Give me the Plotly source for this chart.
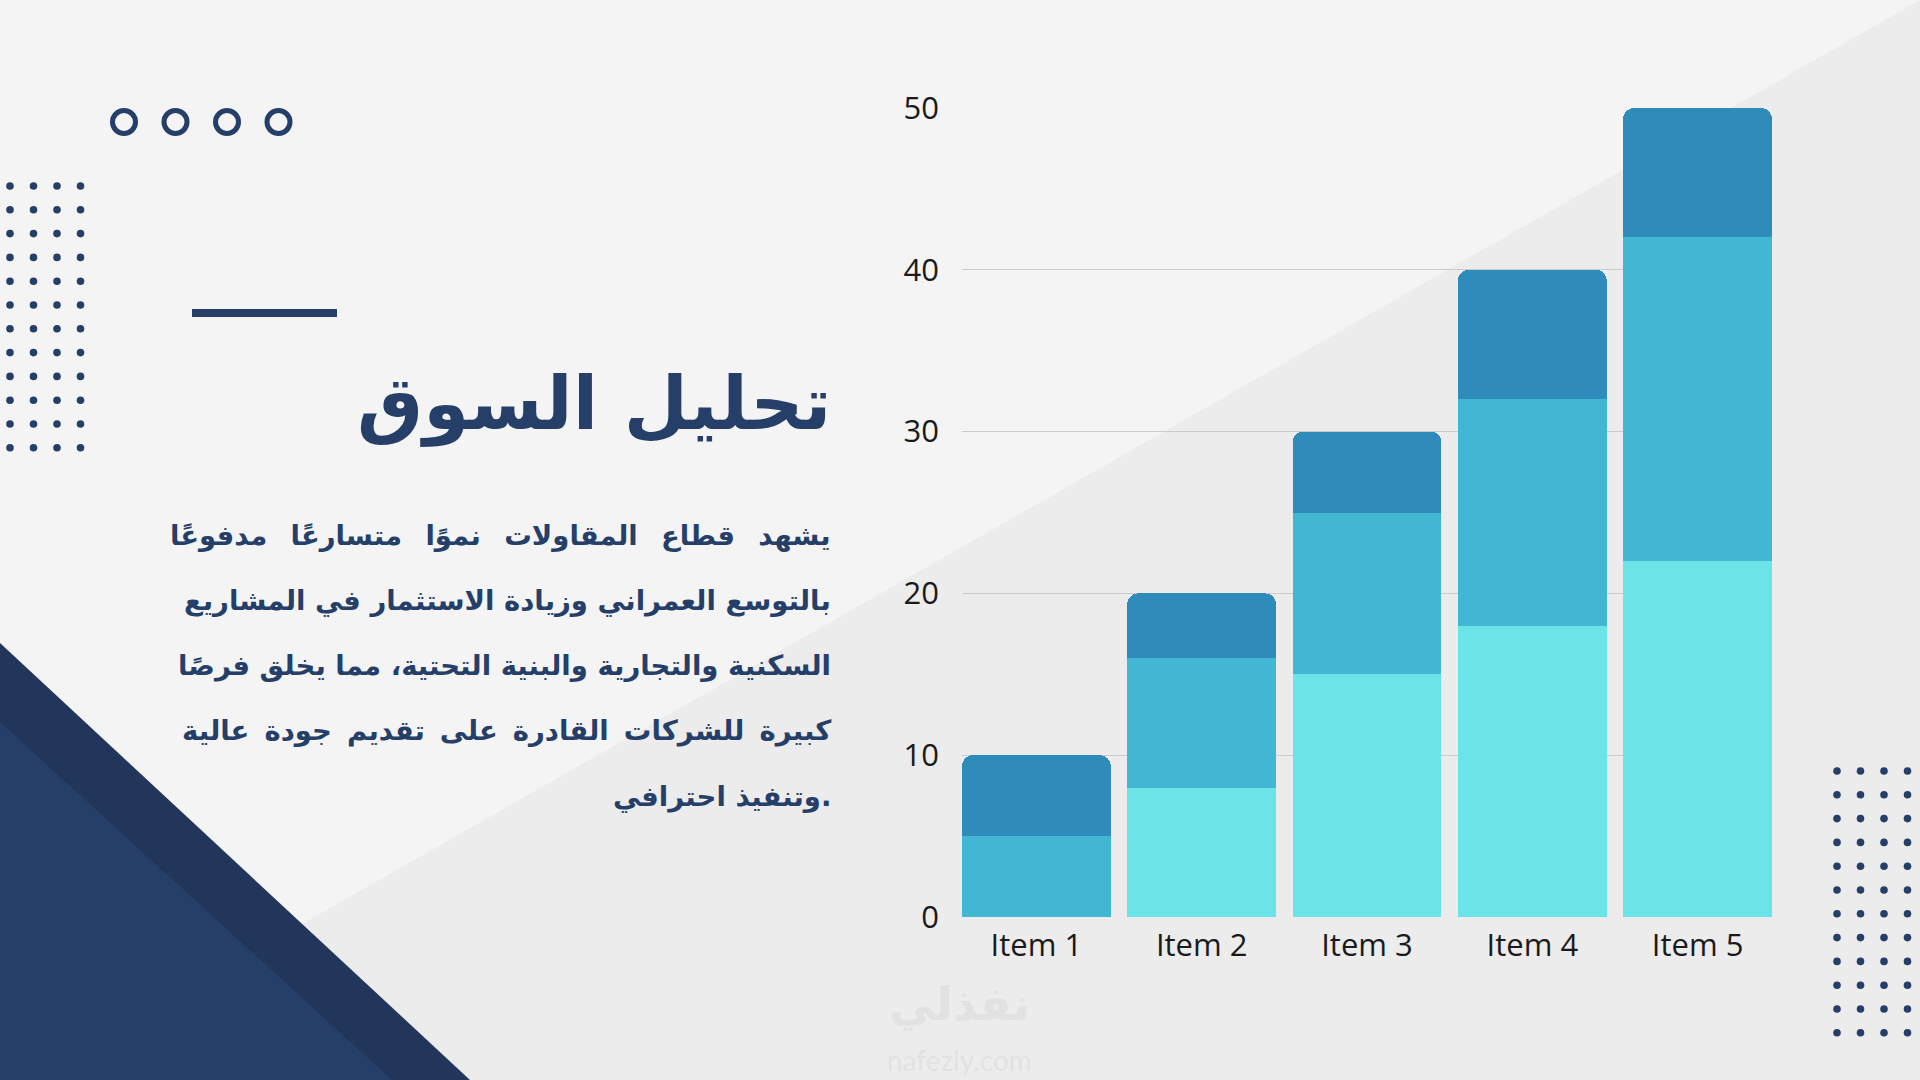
#!/usr/bin/env python3
# -*- coding: utf-8 -*-
"""
Slide: market analysis (تحليل السوق) with a stacked bar chart.
"""

import plotly.graph_objects as go

# Data
CATEGORIES = ["Item 1", "Item 2", "Item 3", "Item 4", "Item 5"]
SERIES_1 = [0, 8, 15, 18, 22]
SERIES_2 = [5, 8, 10, 14, 20]
SERIES_3 = [5, 4, 5, 8, 8]
Y_TICKS = [0, 10, 20, 30, 40, 50]

TITLE = "تحليل السوق"
PARAGRAPH = [
    "يشهد قطاع المقاولات نموًا متسارعًا مدفوعًا",
    "بالتوسع العمراني وزيادة الاستثمار في المشاريع",
    "السكنية والتجارية والبنية التحتية، مما يخلق فرصًا",
    "كبيرة للشركات القادرة على تقديم جودة عالية",
    "وتنفيذ احترافي.",
]
# extra space glyph per word gap, to fake the justified block
JUSTIFY = ["\u2002", "", "", "\u2009", ""]

# Colors
COLORS = {
    "Series 1": "#6AE4E7",
    "Series 2": "#42B7D4",
    "Series 3": "#2E8BBA",
}
NAVY = "#263F69"
NAVY_DARK = "#22355A"
BG = "#F4F4F4"
BG_DARK = "#ECECEC"

W, H = 1920, 1080


def px(x, y):
    """Pixel position -> paper coordinates."""
    return x / W, 1 - y / H


def decoration_shapes():
    shapes = []

    # lower-right diagonal shade
    shapes.append(dict(type="path", xref="paper", yref="paper", layer="below",
                       path="M 1 1 L 1 0 L 0.015 0 Z",
                       fillcolor=BG_DARK, line=dict(width=0)))
    # navy corner triangles
    x0, y0 = px(470, 1080)
    _, y1 = px(0, 643)
    shapes.append(dict(type="path", xref="paper", yref="paper", layer="below",
                       path=f"M 0 {y1} L {x0} 0 L 0 0 Z",
                       fillcolor=NAVY_DARK, line=dict(width=0)))
    x0, _ = px(392, 1080)
    _, y1 = px(0, 722)
    shapes.append(dict(type="path", xref="paper", yref="paper", layer="below",
                       path=f"M 0 {y1} L {x0} 0 L 0 0 Z",
                       fillcolor=NAVY, line=dict(width=0)))

    # dot grids
    for gx, gy in [(10, 186), (1837, 771)]:
        for r in range(12):
            for c in range(4):
                cx, cy = gx + c * 23.5, gy + r * 23.8
                a, b = px(cx - 3.8, cy - 3.8)
                d, e = px(cx + 3.8, cy + 3.8)
                shapes.append(dict(type="circle", xref="paper", yref="paper",
                                   x0=a, x1=d, y0=e, y1=b,
                                   fillcolor=NAVY, line=dict(width=0)))

    # four rings
    for i in range(4):
        cx, cy = 124 + i * 51.5, 122
        a, b = px(cx - 11.5, cy - 11.5)
        d, e = px(cx + 11.5, cy + 11.5)
        shapes.append(dict(type="circle", xref="paper", yref="paper",
                           x0=a, x1=d, y0=e, y1=b,
                           fillcolor="rgba(0,0,0,0)", line=dict(color=NAVY, width=5)))

    # short rule above the title
    a, b = px(192, 309)
    d, e = px(337, 317)
    shapes.append(dict(type="rect", xref="paper", yref="paper",
                       x0=a, x1=d, y0=e, y1=b,
                       fillcolor=NAVY, line=dict(width=0)))
    return shapes


def text_annotations():
    notes = []
    x, y = px(833, 404)
    notes.append(dict(text=f"<b>{TITLE}</b>", x=x, y=y, xref="paper", yref="paper",
                      xanchor="right", yanchor="middle", showarrow=False,
                      font=dict(family="DejaVu Sans", size=74, color=NAVY)))
    for i, line in enumerate(PARAGRAPH):
        gap = " " + JUSTIFY[i]
        text = gap.join(line.split(" "))
        x, y = px(833, 535 + i * 65.3)
        notes.append(dict(text=f"<b>{text}</b>", x=x, y=y, xref="paper", yref="paper",
                          xanchor="right", yanchor="middle", showarrow=False,
                          font=dict(family="DejaVu Sans", size=27.5, color=NAVY)))
    # faint watermark
    x, y = px(959, 1004)
    notes.append(dict(text="<b>نفذلي</b>", x=x, y=y, xref="paper", yref="paper",
                      xanchor="center", yanchor="middle", showarrow=False,
                      font=dict(family="DejaVu Sans", size=46, color="#E2E2E2")))
    x, y = px(959, 1060)
    notes.append(dict(text="nafezly.com", x=x, y=y, xref="paper", yref="paper",
                      xanchor="center", yanchor="middle", showarrow=False,
                      font=dict(family="Lato", size=28, color="#E2E2E2")))
    return notes


def create_figure():
    fig = go.Figure()

    for name, values in [("Series 1", SERIES_1), ("Series 2", SERIES_2), ("Series 3", SERIES_3)]:
        fig.add_trace(go.Bar(x=CATEGORIES, y=values, name=name,
                             marker=dict(color=COLORS[name], line=dict(width=0))))

    fig.update_layout(
        width=W,
        height=H,
        margin=dict(l=0, r=0, t=0, b=0, autoexpand=False),
        paper_bgcolor=BG,
        plot_bgcolor="rgba(0,0,0,0)",
        barmode="stack",
        bargap=0.1,
        barcornerradius=11,
        showlegend=False,
        font=dict(family="Open Sans", size=31, color="#1A1A1A"),
        xaxis=dict(
            domain=[962 / W, 1772 / W],
            range=[-0.45, 4.45],
            showgrid=False,
            showline=False,
            zeroline=False,
            ticks="",
            ticklabelstandoff=7,
        ),
        yaxis=dict(
            domain=[1 - 917 / H, 1 - 108 / H],
            range=[0, 50],
            tickvals=Y_TICKS,
            showgrid=True,
            gridcolor="#CBCBCB",
            gridwidth=1,
            zeroline=False,
            showline=False,
            ticks="",
            ticklabelstandoff=22,
        ),
        shapes=decoration_shapes(),
        annotations=text_annotations(),
    )
    return fig


def main():
    fig = create_figure()
    # drop the default page margin so the slide fills the window
    fig.write_html("out.html", config={"displayModeBar": False},
                   post_script="document.body.style.margin='0';")


if __name__ == "__main__":
    main()
